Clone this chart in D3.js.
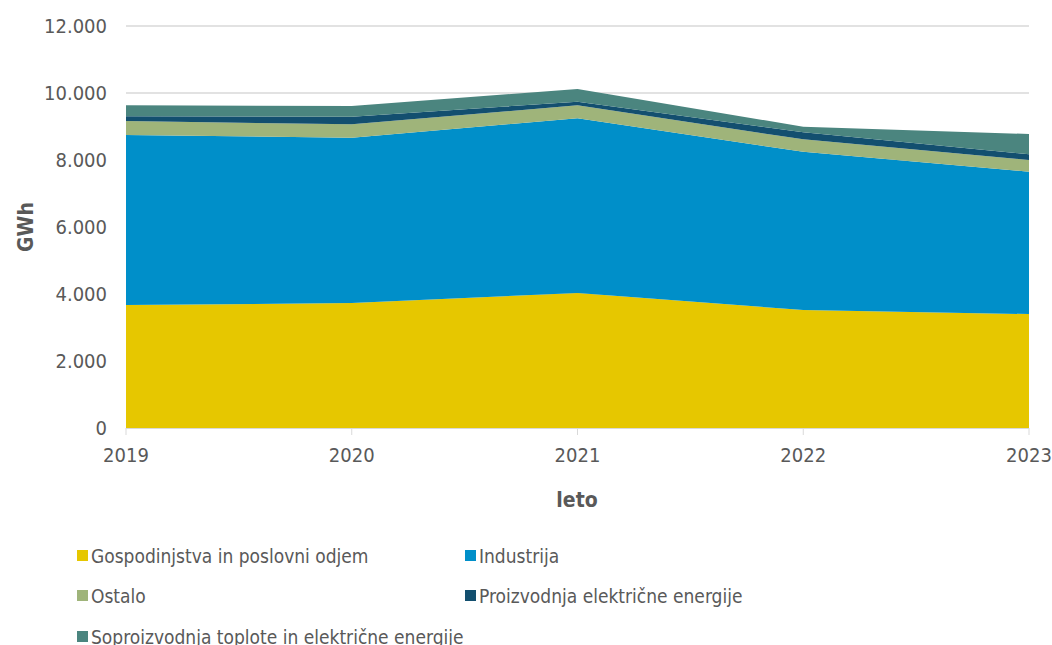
<!DOCTYPE html>
<html>
<head>
<meta charset="utf-8">
<script src="https://cdn.jsdelivr.net/npm/d3@7"></script>
<style>
  body { margin: 0; background: #fff; }
  svg text { font-family: "DejaVu Sans Condensed", "DejaVu Sans", sans-serif; fill: #595959; }
</style>
</head>
<body>
<svg width="1052" height="645"></svg>
<script>
// years on the x axis
var years = [2019, 2020, 2021, 2022, 2023];

// series values in GWh
var gospodinjstva = [3670, 3730, 4030, 3520, 3400];
var industrija    = [5075, 4935, 5215, 4726, 4250];
var ostalo        = [418, 400, 388, 370, 349];
var proizvodnja   = [140, 227, 107, 209, 170];
var soproizvodnja = [329, 319, 379, 168, 606];

var seriesNames = [
  "Gospodinjstva in poslovni odjem",
  "Industrija",
  "Ostalo",
  "Proizvodnja električne energije",
  "Soproizvodnja toplote in električne energije"
];
var colors = ["#e6c700", "#008fc9", "#9fb47a", "#134f6f", "#4b857f"];
var yTicks = [0, 2000, 4000, 6000, 8000, 10000, 12000];

var svg = d3.select("svg");
var x0 = 126, x1 = 1029, yTop = 26, yBottom = 428;

var rows = years.map(function(y, i) {
  return {
    year: y,
    s0: gospodinjstva[i],
    s1: industrija[i],
    s2: ostalo[i],
    s3: proizvodnja[i],
    s4: soproizvodnja[i]
  };
});

var x = d3.scaleLinear().domain([2019, 2023]).range([x0, x1]);
var y = d3.scaleLinear().domain([0, 12000]).range([yBottom, yTop]);

var fmt = function(d) { return d3.format(",")(d).replace(/,/g, "."); };

// gridlines
svg.append("g")
  .selectAll("line")
  .data(yTicks.slice(1))
  .enter().append("line")
    .attr("x1", x0).attr("x2", x1)
    .attr("y1", function(d) { return y(d); })
    .attr("y2", function(d) { return y(d); })
    .attr("stroke", "#d9d9d9")
    .attr("stroke-width", 1.3);

var stack = d3.stack().keys(["s0", "s1", "s2", "s3", "s4"]);
var layers = stack(rows);

var area = d3.area()
  .x(function(d) { return x(d.data.year); })
  .y0(function(d) { return y(d[0]); })
  .y1(function(d) { return y(d[1]); });

svg.append("g")
  .selectAll("path")
  .data(layers)
  .enter().append("path")
    .attr("d", area)
    .attr("fill", function(d, i) { return colors[i]; });

// x axis line and ticks
svg.append("line")
  .attr("x1", x0).attr("x2", x1)
  .attr("y1", yBottom + 0.5).attr("y2", yBottom + 0.5)
  .attr("stroke", "#d9d9d9");

svg.append("g")
  .selectAll("line")
  .data(years)
  .enter().append("line")
    .attr("x1", function(d) { return x(d); })
    .attr("x2", function(d) { return x(d); })
    .attr("y1", yBottom).attr("y2", yBottom + 7)
    .attr("stroke", "#d9d9d9");

svg.append("g")
  .selectAll("text")
  .data(years)
  .enter().append("text")
    .attr("x", function(d) { return x(d); })
    .attr("y", 462)
    .attr("text-anchor", "middle")
    .style("font-size", "20px")
    .text(function(d) { return d; });

// y tick labels
svg.append("g")
  .selectAll("text")
  .data(yTicks)
  .enter().append("text")
    .attr("x", 107)
    .attr("y", function(d) { return y(d) + 7; })
    .attr("text-anchor", "end")
    .style("font-size", "20px")
    .text(fmt);

// axis titles
svg.append("text")
  .attr("x", 577).attr("y", 507)
  .attr("text-anchor", "middle")
  .style("font-size", "21px")
  .style("font-weight", "bold")
  .text("leto");

svg.append("text")
  .attr("transform", "translate(33,227) rotate(-90)")
  .attr("text-anchor", "middle")
  .style("font-size", "21px")
  .style("font-weight", "bold")
  .text("GWh");

// legend
var legendPos = [[77, 556], [465, 556], [77, 596], [465, 596], [77, 637]];
var legend = svg.append("g")
  .selectAll("g")
  .data(seriesNames)
  .enter().append("g")
    .attr("transform", function(d, i) { return "translate(" + legendPos[i][0] + "," + legendPos[i][1] + ")"; });

legend.append("rect")
  .attr("x", 0).attr("y", -6)
  .attr("width", 11).attr("height", 11)
  .attr("fill", function(d, i) { return colors[i]; });

legend.append("text")
  .attr("x", 14).attr("y", 7)
  .style("font-size", "19px")
  .text(function(d) { return d; });
</script>
</body>
</html>
